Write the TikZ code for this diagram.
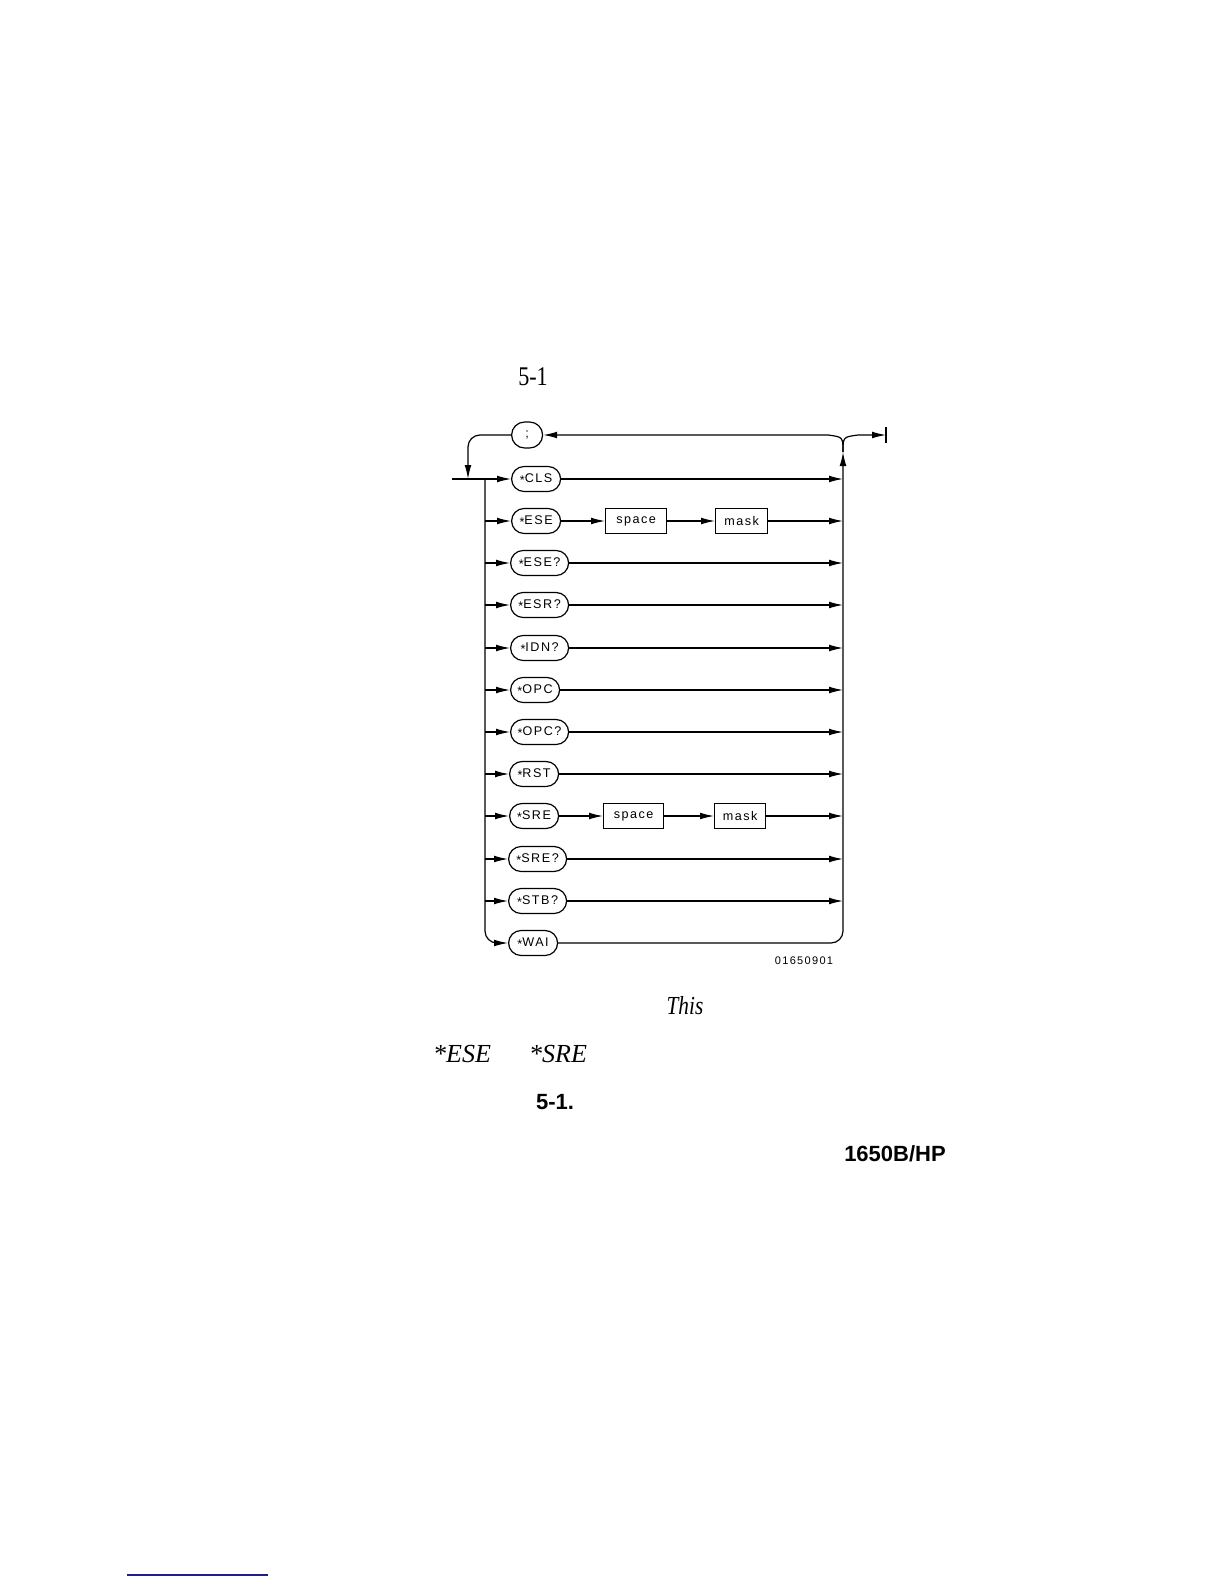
\documentclass[tikz,border=0pt]{standalone}
\usepackage{fontspec}
\setmainfont[FakeStretch=0.82]{Liberation Serif}
\newfontfamily\wideserif{Liberation Serif}
\newfontfamily\plotfont[LetterSpace=12]{Liberation Sans}
\newfontfamily\headfont{Liberation Sans}
\usetikzlibrary{arrows.meta,shapes.misc}
\definecolor{linkblue}{RGB}{30,30,140}
\newcommand{\cstar}{\raisebox{-0.35ex}{*}}

\begin{document}
\begin{tikzpicture}[x=0.5pt,y=-0.5pt]
    % Define styles
    \tikzset{
        cmd/.style={rounded rectangle, draw, line width=0.6pt, minimum height=12.5pt, minimum width=26.5pt, inner xsep=1pt, anchor=west, font=\plotfont\fontsize{6.3}{7}\selectfont},
        param/.style={rectangle, draw, line width=0.6pt, minimum height=12.5pt, anchor=west, font=\plotfont\fontsize{6.3}{7}\selectfont},
        arrow/.style={-{Latex[length=7pt,width=3.4pt]}, line width=0.6pt},
        line/.style={line width=0.6pt}
    }
    \useasboundingbox (0,0) rectangle (1224,1584);

    % Nodes
    \node[cmd, minimum width=17.5pt, minimum height=13pt] (semi) at (511,435) {;};
    \node[cmd] (cls) at (511,479) {\cstar CLS};
    \node[cmd] (ese) at (511,521) {\cstar ESE};
    \node[param, minimum width=30.5pt] (ese_space) at (605,521) {space};
    \node[param, minimum width=26pt] (ese_mask) at (715,521) {mask};
    \node[cmd, minimum width=31pt] (eseq) at (510,563) {\cstar ESE?};
    \node[cmd, minimum width=31pt] (esrq) at (510,605) {\cstar ESR?};
    \node[cmd, minimum width=31pt] (idnq) at (510,648) {\cstar IDN?};
    \node[cmd] (opc) at (510,690) {\cstar OPC};
    \node[cmd, minimum width=31pt] (opcq) at (510,732) {\cstar OPC?};
    \node[cmd] (rst) at (509,774) {\cstar RST};
    \node[cmd] (sre) at (509,816) {\cstar SRE};
    \node[param, minimum width=30pt] (sre_space) at (603,816) {space};
    \node[param, minimum width=25.5pt] (sre_mask) at (714,816) {mask};
    \node[cmd, minimum width=31pt] (sreq) at (508,859) {\cstar SRE?};
    \node[cmd, minimum width=31pt] (stbq) at (508,901) {\cstar STB?};
    \node[cmd] (wai) at (508,943) {\cstar WAI};

    \coordinate (entry) at (452,479);
    \coordinate (split) at (485,479);
    \coordinate (drop) at (468,479);
    \coordinate (merge) at (843,452);
    \coordinate (exit) at (886,435);

    % Arrows
    \draw[line] (entry) -- (split);
    \draw[arrow, rounded corners=6pt] (semi.west) -| (drop);
    \draw[arrow, rounded corners=6pt] (split) |- (wai.west);
    \draw[arrow] (split) -- (cls.west);
    \draw[arrow] (split |- ese.west) -- (ese.west);
    \draw[arrow] (split |- eseq.west) -- (eseq.west);
    \draw[arrow] (split |- esrq.west) -- (esrq.west);
    \draw[arrow] (split |- idnq.west) -- (idnq.west);
    \draw[arrow] (split |- opc.west) -- (opc.west);
    \draw[arrow] (split |- opcq.west) -- (opcq.west);
    \draw[arrow] (split |- rst.west) -- (rst.west);
    \draw[arrow] (split |- sre.west) -- (sre.west);
    \draw[arrow] (split |- sreq.west) -- (sreq.west);
    \draw[arrow] (split |- stbq.west) -- (stbq.west);

    \draw[arrow] (ese.east) -- (ese_space.west);
    \draw[arrow] (ese_space.east) -- (ese_mask.west);
    \draw[arrow] (sre.east) -- (sre_space.west);
    \draw[arrow] (sre_space.east) -- (sre_mask.west);

    \draw[arrow] (cls.east) -- (cls.east -| merge);
    \draw[arrow] (ese_mask.east) -- (ese_mask.east -| merge);
    \draw[arrow] (eseq.east) -- (eseq.east -| merge);
    \draw[arrow] (esrq.east) -- (esrq.east -| merge);
    \draw[arrow] (idnq.east) -- (idnq.east -| merge);
    \draw[arrow] (opc.east) -- (opc.east -| merge);
    \draw[arrow] (opcq.east) -- (opcq.east -| merge);
    \draw[arrow] (rst.east) -- (rst.east -| merge);
    \draw[arrow] (sre_mask.east) -- (sre_mask.east -| merge);
    \draw[arrow] (sreq.east) -- (sreq.east -| merge);
    \draw[arrow] (stbq.east) -- (stbq.east -| merge);
    \draw[arrow, rounded corners=6pt] (wai.east) -| (merge);

    \draw[arrow] (merge) .. controls (843,437) .. (828,435) -- (semi.east);
    \draw[arrow] (merge) .. controls (843,437) .. (858,435) -- (exit);
    \draw[line] (exit) ++(0,-8) -- ++(0,16);

    % Texts
    \node[font=\plotfont\fontsize{5.5}{6}\selectfont] (art_id) at (804,961) {01650901};
    \node[font=\fontsize{13.5}{16}\selectfont] (fig_no) at (533,377) {5-1};
    \node[font=\itshape\fontsize{13}{15}\selectfont] (this_word) at (685,1006) {This};
    \node[font=\wideserif\itshape\fontsize{13}{15}\selectfont] (ese_word) at (462,1054) {*ESE};
    \node[font=\wideserif\itshape\fontsize{13}{15}\selectfont] (sre_word) at (558,1054) {*SRE};
    \node[font=\headfont\bfseries\fontsize{11}{13}\selectfont] (fig_ref) at (555,1102) {5-1.};
    \node[font=\headfont\bfseries\fontsize{11}{13}\selectfont] (model) at (895,1154) {1650B/HP};
    \draw[linkblue, line width=0.6pt] (127,1575) -- (268,1575);
\end{tikzpicture}
\end{document}
